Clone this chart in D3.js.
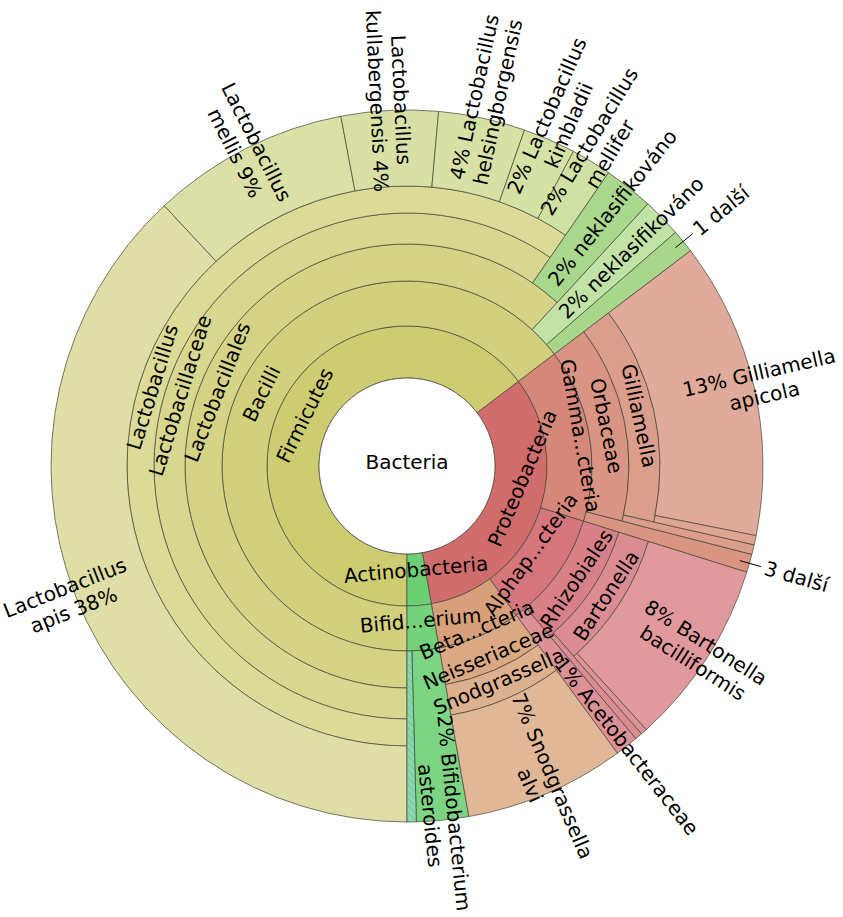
<!DOCTYPE html>
<html><head><meta charset="utf-8">
<script src="https://cdn.jsdelivr.net/npm/d3@7"></script>
<style>body{margin:0;background:#fff}svg{display:block}</style>
</head><body>
<svg id="chart" width="843" height="917"></svg>
<script>
// ---------------- DATA ----------------
const nodeIds = ["Bacteria","Firmicutes","Bacilli","Lactobacillales","Lactobacillaceae","Lactobacillus",
 "L.apis","L.mellis","L.kull","L.helsing","L.kimb","L.mellifer",
 "Lactobacillales-unc","Bacilli-unc","Bacilli-more",
 "Proteobacteria","Gamma","Orbaceae","Gilliamella","G.apicola","Gilliamella-more","Orbaceae-more","Gamma-more",
 "Alpha","Rhizobiales","Bartonella","B.bacilliformis","Bartonella-more","Rhizobiales-more","Acetobacteraceae",
 "Beta","Neisseriaceae","Snodgrassella","S.alvi",
 "Actinobacteria","Bifid","B.asteroides"];
const nodeParents = [null,"Bacteria","Firmicutes","Bacilli","Lactobacillales","Lactobacillaceae",
 "Lactobacillus","Lactobacillus","Lactobacillus","Lactobacillus","Lactobacillus","Lactobacillus",
 "Lactobacillales","Bacilli","Bacilli",
 "Bacteria","Proteobacteria","Gamma","Orbaceae","Gilliamella","Gilliamella","Orbaceae","Gamma",
 "Proteobacteria","Alpha","Rhizobiales","Bartonella","Bartonella","Rhizobiales","Alpha",
 "Proteobacteria","Beta","Neisseriaceae","Snodgrassella",
 "Bacteria","Actinobacteria","Bifid"];
// own magnitude of each node (percent of all reads)
const nodeValues = [0,0,0,0,0,0,
 38.06,8.97,4.39,3.94,2.39,1.83,
 2.25,1.78,1.06,
 0,0,0,0,13.47,0.42,0.44,0.83,
 0,0,0,8.45,0.28,0.33,1.06,
 0,0,0,7.28,
 0,0.42,2.36];
const nodeLabels = ["Bacteria","Firmicutes","Bacilli","Lactobacillales","Lactobacillaceae","Lactobacillus",
 "Lactobacillus apis","Lactobacillus mellis","Lactobacillus kullabergensis","Lactobacillus helsingborgensis","Lactobacillus kimbladii","Lactobacillus mellifer",
 "neklasifikováno","neklasifikováno","",
 "Proteobacteria","Gamma...cteria","Orbaceae","Gilliamella","Gilliamella apicola","","","",
 "Alphap...cteria","Rhizobiales","Bartonella","Bartonella bacilliformis","","","Acetobacteraceae",
 "Beta...cteria","Neisseriaceae","Snodgrassella","Snodgrassella alvi",
 "Actinobacteria","Bifid...erium","Bifidobacterium asteroides"];
// grouped hidden wedges ("N další")
const moreNodes = ["Bacilli-more","Gamma-more"];
const moreCounts = [1,3];

// ---------------- LAYOUT / STYLE ----------------
const W = 843, H = 917, cx = 407, cy = 466;
const ringEdges = [88,140,185,222,253,280];
const R = 356;
const fontSize = 20;
const colors = {
 Firmicutes:"#cdcc70", Bacilli:"#d1d07c", Lactobacillales:"#d5d486", Lactobacillaceae:"#d8d78f", Lactobacillus:"#dbda97",
 "L.apis":"#dfdea6","L.mellis":"#dbe0a6","L.kull":"#d9e0a6","L.helsing":"#d7e1a6","L.kimb":"#d4e2a5","L.mellifer":"#d0e2a3",
 "Lactobacillales-unc":"#a9d78c","Bacilli-unc":"#c2e3a6","Bacilli-more":"#a8d68b",
 Proteobacteria:"#d06c6c", Gamma:"#d5887a", Orbaceae:"#d99483", Gilliamella:"#dc9e8c","G.apicola":"#e0ab9a",
 "Gilliamella-more":"#dea593","Orbaceae-more":"#dc9d8a","Gamma-more":"#d99482",
 Alpha:"#d4767b", Rhizobiales:"#d88088", Bartonella:"#db8c93","B.bacilliformis":"#e09a9e","Bartonella-more":"#de9399",
 "Rhizobiales-more":"#dc8d93", Acetobacteraceae:"#dd9096",
 Beta:"#d8a07a", Neisseriaceae:"#dba884", Snodgrassella:"#ddb08e","S.alvi":"#e0b898",
 Actinobacteria:"#6dcf73", Bifid:"#74d27a","B.asteroides":"#7dd583"
};
// label placement tweaks (radius in px from centre, angle in degrees)
const labelLayout = {
 "Proteobacteria":{r:116, angle:96, rotate:-67},
 "Gamma":{r:176}, "Alpha":{r:152}, "Beta":{r:178}, "Actinobacteria":{r:104}, "Bifid":{r:155},
 "Neisseriaceae":{r:207}, "Snodgrassella":{r:234},
 "L.apis":{r:363},"L.mellis":{r:357},"L.kull":{r:366},"L.helsing":{r:375},"L.kimb":{r:377},"L.mellifer":{r:372},
 "Lactobacillales-unc":{r:330},"Bacilli-unc":{r:313},"G.apicola":{r:364},"B.bacilliformis":{r:347},
 "S.alvi":{r:342},"Acetobacteraceae":{r:356},"B.asteroides":{r:350}
};

// ---------------- BUILD ----------------
const rows = nodeIds.map((id,i)=>({id, parent:nodeParents[i], value:nodeValues[i], label:nodeLabels[i]}));
const root = d3.stratify().id(d=>d.id).parentId(d=>d.parent)(rows);
root.sum(d=>d.value);
d3.partition().size([2*Math.PI,1])(root);
const total = root.value;
const offset = Math.PI; // first wedge starts at 6 o'clock

const rScale = d3.scaleLinear().domain(d3.range(ringEdges.length)).range(ringEdges);
const innerR = d => rScale(d.depth-1);
const outerR = d => d.children ? rScale(d.depth) : R;

const svg = d3.select("#chart");
const defs = svg.append("defs");
const pat = defs.append("pattern").attr("id","hatch").attr("patternUnits","userSpaceOnUse")
  .attr("width",5).attr("height",5).attr("patternTransform","rotate(-45)");
pat.append("rect").attr("width",5).attr("height",5).attr("fill","#8ad8ac");
pat.append("line").attr("x1",0).attr("y1",0).attr("x2",0).attr("y2",5).attr("stroke","#5aa884").attr("stroke-width",0.8);

const g = svg.append("g").attr("transform",`translate(${cx},${cy})`);
const arc = d3.arc();

const nodes = root.descendants().filter(d=>d.depth>0);
g.selectAll("path.w").data(nodes).join("path").attr("class","w")
 .attr("d",d=>arc({startAngle:d.x0+offset,endAngle:d.x1+offset,innerRadius:innerR(d),outerRadius:outerR(d)}))
 .attr("fill",d=>colors[d.id]||"#ccc").attr("stroke","#45453a").attr("stroke-width",0.7);

// unassigned (hatched) remainder of inner nodes
const hatched = nodes.filter(d=>d.children && d.data.value>0);
g.selectAll("path.h").data(hatched).join("path").attr("class","h")
 .attr("d",d=>{
   const childSum = d3.sum(d.children,c=>c.value);
   const a0 = d.x0 + (d.x1-d.x0)*childSum/d.value;
   return arc({startAngle:a0+offset,endAngle:d.x1+offset,innerRadius:rScale(d.depth),outerRadius:R});
 })
 .attr("fill","url(#hatch)").attr("stroke","#45453a").attr("stroke-width",0.7);

// centre
g.append("circle").attr("r",ringEdges[0]).attr("fill","#fff").attr("stroke","#45453a").attr("stroke-width",0.7);
g.append("text").attr("x",0).attr("y",-4).attr("text-anchor","middle").attr("dominant-baseline","central")
 .attr("font-family","DejaVu Sans").attr("font-size",fontSize).text(root.data.label);

const toDeg = a => ((a*180/Math.PI)%360+360)%360;
const pt = (r,deg) => [r*Math.sin(deg*Math.PI/180), -r*Math.cos(deg*Math.PI/180)];
const lh = fontSize*1.2;

function drawText(x,y,rot,lines,anchor){
  const t = g.append("text").attr("transform",`translate(${x},${y}) rotate(${rot})`)
   .attr("font-family","DejaVu Sans").attr("font-size",fontSize).attr("fill","#000")
   .attr("text-anchor",anchor||"middle");
  lines.forEach((s,i)=>{
    t.append("tspan").attr("x",0).attr("y",(i-(lines.length-1)/2)*lh).attr("dominant-baseline","central").text(s);
  });
}

nodes.filter(d=>d.data.label).forEach(d=>{
  const lay = labelLayout[d.id]||{};
  const mid = toDeg((d.x0+d.x1)/2+offset);
  const ang = lay.angle!==undefined ? lay.angle : mid;
  if(d.children){
    const r = lay.r!==undefined ? lay.r : (innerR(d)+outerR(d))/2;
    let rot = (mid>90 && mid<270) ? mid-180 : (mid>=270 ? mid-360 : mid);
    if(lay.rotate!==undefined) rot = lay.rotate;
    const [x,y] = pt(r,ang);
    drawText(x,y,rot,[d.data.label]);
  } else {
    const pct = Math.round(d.value/total*100)+"%";
    const words = d.data.label.split(" ");
    const lines = words.length>1 ? [words[0], words.slice(1).join(" ")] : [words[0]];
    const right = mid < 180;
    if(right) lines[0] = pct+" "+lines[0]; else lines[lines.length-1] = lines[lines.length-1]+" "+pct;
    const rot = right ? mid-90 : mid-270;
    const r = lay.r!==undefined ? lay.r : R;
    const [x,y] = pt(r,ang);
    drawText(x,y,rot,lines);
  }
});

// "N další" pointers
moreNodes.forEach((id,i)=>{
  const d = root.find(n=>n.id===id);
  const mid = toDeg((d.x0+d.x1)/2+offset);
  const [x1,y1] = pt(R-10,mid), [x2,y2] = pt(R+12,mid);
  g.append("line").attr("x1",x1).attr("y1",y1).attr("x2",x2).attr("y2",y2).attr("stroke","#000").attr("stroke-width",1);
  const right = mid<180;
  const [tx,ty] = pt(R+16,mid);
  drawText(tx,ty,right?mid-90:mid-270,[moreCounts[i]+" další"],right?"start":"end");
});
</script>
</body></html>
